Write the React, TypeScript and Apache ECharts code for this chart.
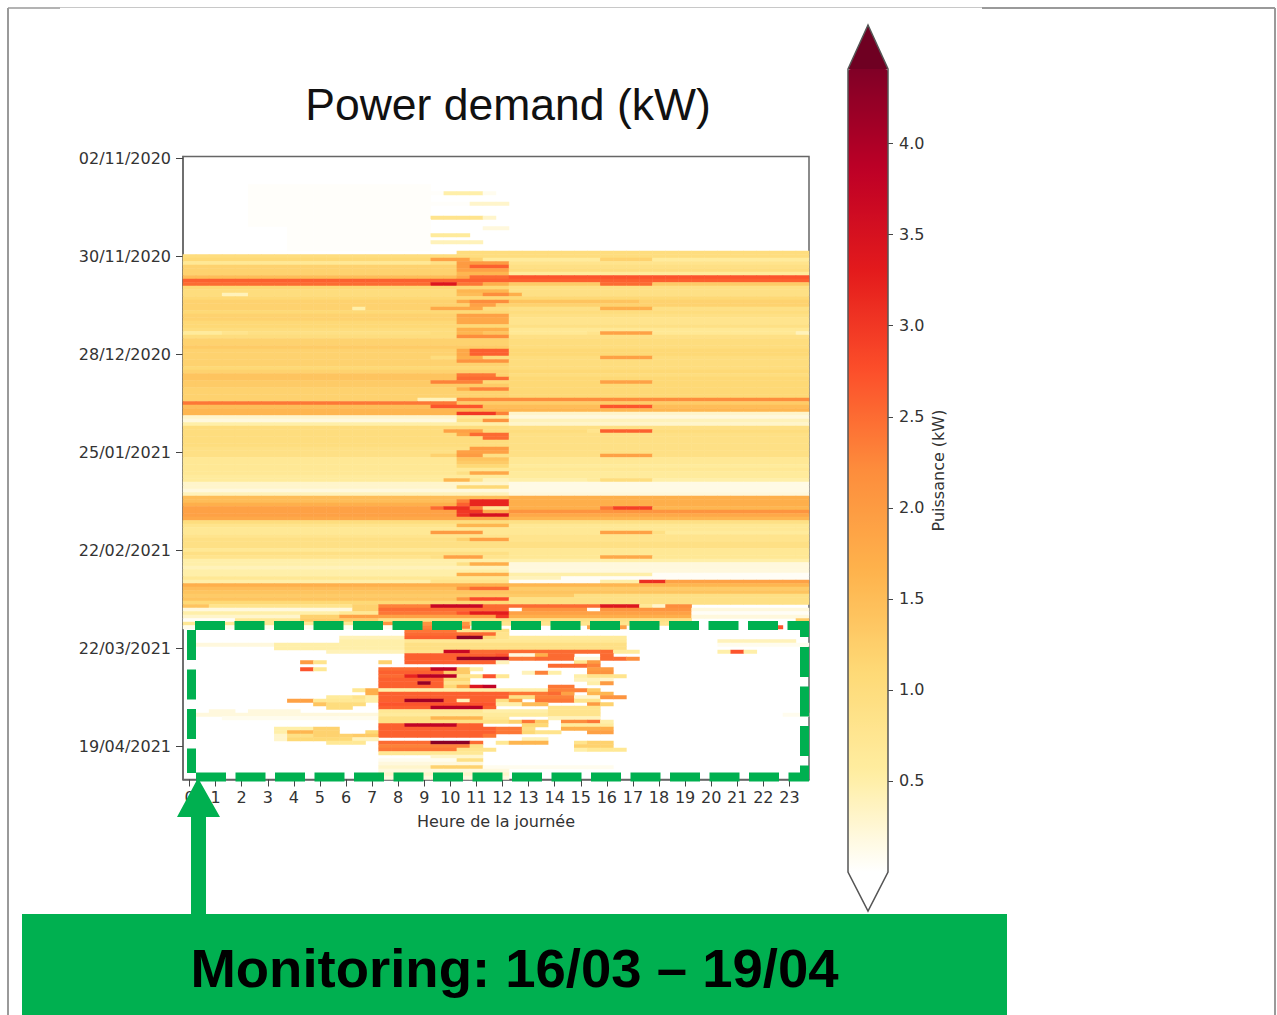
import React, { useEffect, useRef } from "react";
import * as echarts from "echarts";

const hourLabels = Array.from({ length: 24 }, (_, h) => String(h));
const dateTicks = ["02/11/2020", "30/11/2020", "28/12/2020", "25/01/2021", "22/02/2021", "22/03/2021", "19/04/2021"];
const colorbarTicks = [0.5, 1, 1.5, 2, 2.5, 3, 3.5, 4];
const ylOrRd = ["#ffffff", "#ffeda0", "#fed976", "#feb24c", "#fd8d3c", "#fc4e2a", "#e31a1c", "#bd0026", "#800026"];

// Each row is "startColumn:tenthsOfKw" runs over 48 half-hour columns.
const rowsA = [
  "", "", "", "", "", "", "", "",
  "5:0.3 19:0", "5:0.3 19:0", "5:0.3 20:5 23:1 24:0", "5:0.3 19:0", "5:0.3 19:0", "5:0.3 22:3 25:0",
  "5:0.3 19:0", "5:0.3 19:0", "5:0.3 19:0", "5:0.3 19:8 23:3 24:0", "5:0.3 19:0", "5:0.3 19:0", "8:0.3 19:0 23:2 25:0",
  "8:0.3 19:0", "8:0.3 19:6 22:0", "8:0.3 19:0", "8:0.3 19:4 23:0", "8:0.3 19:0", "8:0.3 19:0", "21:10",
];
const rowsB = [
  "0:10", "0:11 19:19 22:12 23:6 32:12 36:6", "0:7 19:9 21:20 25:8", "0:12 21:20 22:26 25:9", "0:12 21:19 25:10",
  "0:12 21:16 25:6", "0:15 21:18 22:25 25:27", "0:26", "0:25 19:34 21:24 23:17 25:13 32:25 36:13",
  "0:11 25:9", "0:10 21:16 25:9", "0:10 3:4 5:10 21:15 23:22 25:17 26:9", "0:11", "0:12 21:18 22:22 25:14 35:12",
  "0:12 22:19 24:12", "0:12 13:5 14:12 19:18 23:10 25:9 32:17 36:9", "0:11 25:10", "0:12 21:19 25:9", "0:12 21:18 25:8",
  "0:11 21:18 25:8", "0:11 25:9", "0:10 21:17 25:7", "0:6 3:8 5:9 19:10 21:16 23:14 25:7 31:8 32:19 36:7 47:4", "0:10 21:22 25:9",
  "0:12 25:10", "0:12 25:10", "0:13 25:10", "0:12 21:18 22:26 25:11",
];
const rowsC = [
  "0:12 21:18 22:26 25:11", "0:12 19:10 21:17 23:10 25:10 32:19 36:10", "0:12 21:21 25:10", "0:12 25:10", "0:11 25:10", "0:12 25:11",
  "0:14 21:24 24:12 25:10", "0:14 21:25 25:11", "0:13 19:23 23:11 32:19 36:11", "0:13 25:11", "0:12 21:17 22:23 25:11",
  "0:12 25:11", "0:12 25:11", "0:12 18:4 21:22", "0:24 21:13", "0:15 19:27 23:15 32:27 36:15", "0:16", "0:16 21:30 24:23 25:3",
  "0:3 21:7 25:2", "0:2 21:9 23:21 25:4", "0:5 21:5 25:3", "0:10 25:9", "0:10 19:10 20:19 23:10 31:8 32:26 36:10",
  "0:10 21:18 22:25 25:9", "0:10 23:25 25:9", "0:10 25:9", "0:10 25:9", "0:9 22:20 25:9",
];
const rowsD = [
  "0:9 21:19 25:9", "0:9 19:12 21:20 23:9 32:19 36:9", "0:7 21:14 25:7", "0:7 21:13 25:7", "0:7 21:11 25:6",
  "0:7", "0:7 21:9 22:18 25:6", "0:6", "0:6 20:16 22:8 23:4 25:5 31:6 32:10 36:5", "0:3 25:1.5", "0:3 21:11 25:1.5",
  "0:2 25:1.5", "0:4 25:2", "0:15 21:15 25:17", "0:15 21:23 22:32 25:17", "0:17 21:26 22:32 25:17",
  "0:19 19:25 20:31 22:23 23:7 25:17 32:24 33:29 36:16", "0:19 21:30 23:18 25:21", "0:19 21:30 22:35 25:18", "0:18 25:16",
  "0:10 25:9", "0:8 21:16 25:7", "0:7", "0:7 19:20 23:7 32:19 36:9 37:6", "0:8 25:8",
  "0:9 21:12 22:19 25:8", "0:9", "0:9",
];
const rowsE = [
  "0:7", "0:9 25:7", "0:8 19:9 20:19 23:8 25:7 32:18 36:7", "0:5", "0:5 21:9 22:17 25:2", "0:4 25:2", "0:5 25:2",
  "0:5 21:17 25:5 36:0.5", "0:7 25:4 29:0.5", "0:5 19:8 25:0.5 32:5 35:31 37:19", "0:17 25:16", "0:15 21:21 22:25 25:13",
  "0:14", "0:13 25:13 30:9", "0:14 21:21 22:28 25:9", "0:11 25:9", "0:14 2:8 13:12 15:23 19:37 23:25 32:34 35:7 36:3 37:22 39:0",
  "0:2 13:12 15:25 19:25 25:0.5 26:21 31:0.5 32:21 39:2", "0:5 12:7 15:24 21:27 22:33 25:19 39:0.5", "0:3 9:12 12:19 24:30 25:17 39:2",
  "0:0.5 4:7 9:13 15:9 39:0 47:13", "0:7 15:21 22:9 23:8 39:0", "0:1 17:23 22:0 31:19 34:0 45:27 46:0", "17:24 21:8 23:9 25:0",
  "17:25 24:8 25:0", "12:4 17:26 21:43 23:11 24:8 25:6 34:0", "12:5 17:7 34:0 41:4 47:0", "1:2 7:5 17:9 34:0 41:1",
];
const rowsF = [
  "7:5 17:9 34:0", "11:4 17:8 20:37 22:25 33:6 35:0 41:5 42:27 43:5 44:0", "17:26 24:27 25:2 27:17 28:25 30:0 32:25 33:0",
  "17:26 21:42 25:24 27:25 30:2 32:25 34:22 35:0", "9:20 10:8 11:0 15:12 16:0 17:26 24:4 25:0 30:8 31:20 32:0", "15:0 28:25 31:23 32:0",
  "9:27 10:7 11:0 15:25 19:38 21:13 22:5 23:0 31:20 33:0", "15:26 20:13 22:0 26:4 27:23 28:5 29:0 31:21 33:0",
  "15:25 17:32 18:39 21:8 23:27 24:7 25:0 30:5 31:8 34:0", "15:26 20:11 22:0 30:4 32:3 33:0", "15:26 18:42 19:26 20:8 22:0 31:5 32:20 33:0",
  "15:26 20:11 21:19 22:34 23:38 24:0 28:24 30:0", "13:7 14:17 15:5 28:23 31:13 32:0", "14:17 15:26 25:24 28:25 29:19 30:0 31:16 33:0",
  "11:6 13:8 14:5 15:26 25:9 27:23 30:3 32:21 34:0", "8:19 10:7 14:5 15:26 17:41 20:26 21:4 22:26 24:9 25:19 26:0 27:24 30:8 32:0",
  "10:14 11:10 14:0 15:27 24:5 26:15 28:0 31:20 32:12 33:0", "11:10 13:0 15:26 19:39 23:26 24:0 28:8 32:0",
  "2:2 4:0 5:2 9:0 15:7 23:5 28:8 32:0", "1:2 15:6 28:8 32:0 46:1", "3:1 15:9 19:16 23:7 25:0 28:4 32:0",
  "15:9 25:12 26:24 27:13 28:0 29:22 31:24 32:5 33:0", "15:26 17:38 21:26 23:0 26:11 28:0 29:6 33:0",
  "7:5 10:12 12:0 15:26 24:24 26:9 27:0 29:17 33:0", "7:5 8:16 10:12 12:0 14:11 15:26 24:24 26:11 27:8 29:0 31:19 33:0",
  "7:3 8:9 10:12 13:13 15:26 23:24 24:0", "7:3 8:11 13:4 15:0 26:4 28:0", "11:7 14:0 15:25 19:43 22:25 23:0 24:7 25:16 28:0 30:8 31:12 33:0",
];
const rowsG = [
  "15:23 22:9 23:0 30:12 33:0", "15:24 21:8 24:0 30:5 31:7 34:0", "15:7 23:0", "19:3 23:0", "15:1 21:9 23:0", "15:2 23:0",
  "15:3 19:12 23:1 33:0", "15:2 25:0", "15:3 25:0", "15:2 25:0",
];
const heatRows = [...rowsA, ...rowsB, ...rowsC, ...rowsD, ...rowsE, ...rowsF, ...rowsG];

const halfHours = hourLabels.flatMap((h) => [h, `${h}.5`]);
const rowDates = heatRows.map((_, i) => {
  if (i % 28 === 0 && dateTicks[i / 28]) return dateTicks[i / 28];
  return `row-${i}`;
});

function buildCells() {
  const cells: number[][] = [];
  heatRows.forEach((row, r) => {
    const runs = row ? row.split(" ").map((t) => t.split(":").map(Number)) : [];
    runs.forEach(([start, tenths], k) => {
      const end = k + 1 < runs.length ? runs[k + 1][0] : 48;
      if (tenths > 0) for (let c = start; c < end; c++) cells.push([c, r, tenths / 10]);
    });
  });
  return cells;
}

const GREEN = "#00b050";
const FRAME = "#9a9a9a";
const tickText = { fontFamily: "DejaVu Sans", fontSize: 16, color: "#333" };

function frameLine(x1: number, y1: number, x2: number, y2: number, w: number, color = FRAME) {
  return { type: "line", z: 100, shape: { x1, y1, x2, y2 }, style: { stroke: color, lineWidth: w } };
}
function dashLine(x1: number, y1: number, x2: number, y2: number) {
  return {
    type: "line", z: 100, shape: { x1, y1, x2, y2 },
    style: { stroke: GREEN, lineWidth: 9, lineDash: [30, 9.5] },
  };
}

export default function App() {
  const ref = useRef<HTMLDivElement>(null);
  useEffect(() => {
    document.body.style.margin = "0";
    document.body.style.overflow = "hidden";
    const chart = echarts.init(ref.current!, undefined, { renderer: "svg" });
    chart.setOption({
      animation: false,
      backgroundColor: "#ffffff",
      title: {
        text: "Power demand (kW)", left: 503, top: 77, textAlign: "center",
        textStyle: { fontFamily: "Liberation Sans", fontSize: 44.5, fontWeight: "normal", color: "#111" },
      },
      grid: [
        { left: 183, top: 156.5, width: 626, height: 623, show: true, borderColor: "#666", borderWidth: 1.5, backgroundColor: "#fff" },
        { left: 887, top: 69, width: 1, height: 803, show: false },
      ],
      xAxis: [
        {
          type: "category", data: halfHours, gridIndex: 0, position: "bottom", boundaryGap: true,
          name: "Heure de la journée", nameLocation: "middle", nameGap: 34,
          nameTextStyle: { fontFamily: "DejaVu Sans", fontSize: 16, color: "#333" },
          axisLine: { show: true, lineStyle: { color: "#666", width: 1.5 } },
          axisTick: { show: true, alignWithLabel: true, interval: 1, length: 7, lineStyle: { color: "#444" } },
          axisLabel: { ...tickText, interval: 1, margin: 10, hideOverlap: false },
          splitLine: { show: false },
        },
        { type: "value", gridIndex: 1, show: false, min: 0, max: 1 },
      ],
      yAxis: [
        {
          type: "category", data: rowDates, gridIndex: 0, inverse: true, boundaryGap: true,
          axisLine: { show: true, lineStyle: { color: "#666", width: 1.5 } },
          axisTick: { show: true, alignWithLabel: true, interval: 27, length: 7, lineStyle: { color: "#444" } },
          axisLabel: { ...tickText, interval: 27, margin: 12, hideOverlap: false },
          splitLine: { show: false },
        },
        {
          type: "value", gridIndex: 1, position: "right", min: 0, max: 4.41,
          name: "Puissance (kW)", nameLocation: "middle", nameRotate: 90, nameGap: 42,
          nameTextStyle: { fontFamily: "DejaVu Sans", fontSize: 16, color: "#333" },
          axisLine: { show: false },
          axisTick: { show: true, length: 6, customValues: colorbarTicks, lineStyle: { color: "#444" } },
          axisLabel: { ...tickText, margin: 11, customValues: colorbarTicks, formatter: (v: number) => v.toFixed(1) },
          splitLine: { show: false },
        },
      ],
      visualMap: {
        type: "continuous", min: 0, max: 4.41, show: true, calculable: false, seriesIndex: 0, padding: 0,
        left: 848, top: 69, itemWidth: 40, itemHeight: 803, text: ["", ""], hoverLink: false, realtime: false,
        inRange: { color: ylOrRd },
      },
      series: [
        {
          type: "heatmap", xAxisIndex: 0, yAxisIndex: 0, data: buildCells(), progressive: 0,
          itemStyle: { borderWidth: 0 }, emphasis: { disabled: true },
        },
      ],
      graphic: [
        frameLine(8, 8, 8, 1015, 2),
        frameLine(8, 8, 60, 8, 1.5),
        frameLine(60, 7.5, 982, 7.5, 1, "#c8c8c8"),
        frameLine(982, 8, 1275, 8, 2),
        frameLine(1275, 8, 1275, 1015, 2),
        { type: "polygon", z: 99, shape: { points: [[848, 69], [868, 25], [888, 69]] }, style: { fill: "#6f0022" } },
        {
          type: "polygon", z: 100,
          shape: { points: [[848, 69], [868, 25], [888, 69], [888, 872], [868, 911], [848, 872]] },
          style: { fill: "none", stroke: "#555", lineWidth: 1.5 },
        },
        dashLine(195, 625.5, 809, 625.5),
        dashLine(196, 777, 809, 777),
        dashLine(191.5, 630, 191.5, 773),
        dashLine(804.5, 647, 804.5, 773),
        dashLine(804.5, 625, 804.5, 637),
        {
          type: "polygon", z: 101,
          shape: { points: [[198, 778], [220, 817], [206, 817], [206, 915], [191, 915], [191, 817], [177, 817]] },
          style: { fill: GREEN },
        },
        { type: "rect", z: 100, shape: { x: 22, y: 914, width: 985, height: 101 }, style: { fill: GREEN } },
        {
          type: "text", z: 102, x: 514.5, y: 968,
          style: {
            text: "Monitoring: 16/03 – 19/04", fill: "#000", textAlign: "center", textVerticalAlign: "middle",
            font: "bold 54.5px 'Liberation Sans'",
          },
        },
      ],
    });
    return () => chart.dispose();
  }, []);
  return <div ref={ref} style={{ position: "absolute", left: 0, top: 0, width: 1277, height: 1015 }} />;
}
